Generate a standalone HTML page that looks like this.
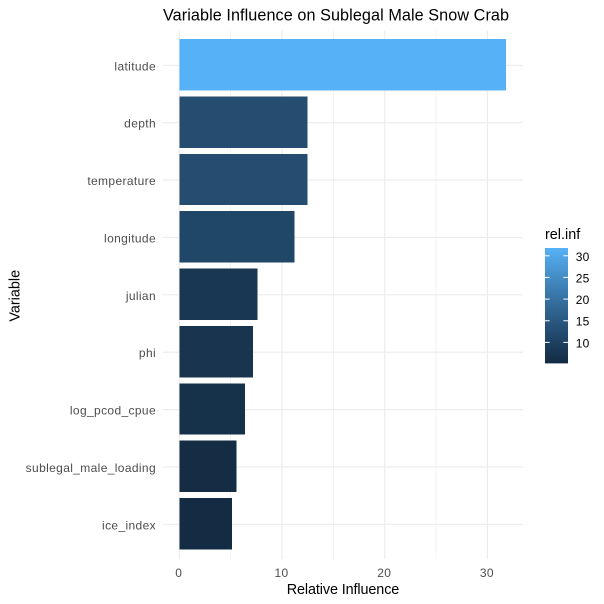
<!DOCTYPE html>
<html>
<head>
<meta charset="utf-8">
<title>Variable Influence on Sublegal Male Snow Crab</title>
<style>
html,body{margin:0;padding:0;background:#fff;}
svg{display:block;font-family:"Liberation Sans",Arial,sans-serif;}
</style>
</head>
<body>
<svg id="chart" xmlns="http://www.w3.org/2000/svg" width="604" height="604" viewBox="0 0 604 604">
  <rect x="0" y="0" width="604" height="604" fill="#ffffff"/>
  <g id="grid"></g>
  <g id="bars"></g>
  <g id="yticks"></g>
  <g id="xticks"></g>
  <text x="163" y="20.5" font-size="16.2" fill="#000" textLength="346" lengthAdjust="spacing">Variable Influence on Sublegal Male Snow Crab</text>
  <text x="286.7" y="594" font-size="14.4" fill="#000" textLength="112.6" lengthAdjust="spacing">Relative Influence</text>
  <text transform="translate(19.3 295.8) rotate(-90)" font-size="14.4" fill="#000" text-anchor="middle">Variable</text>
  <g id="legend">
    <text x="545" y="239" font-size="14.4" fill="#000">rel.inf</text>
    <defs><linearGradient id="cbar" x1="0" y1="1" x2="0" y2="0"></linearGradient></defs>
    <rect x="545" y="248" width="23" height="115.4" fill="url(#cbar)"/>
  </g>
</svg>
<script>
const categories = ["latitude","depth","temperature","longitude","julian","phi","log_pcod_cpue","sublegal_male_loading","ice_index"];
const relInf = [31.8,12.5,12.5,11.2,7.6,7.2,6.4,5.55,5.15];
const xTicks = [0,10,20,30];
const xMinorTicks = [5,15,25];
const legendTicks = [10,15,20,25,30];

const NS = "http://www.w3.org/2000/svg";
const PANEL = {left:163,right:523,top:30.5,bottom:559};
const vMax = Math.max.apply(null, relInf);
const vMin = Math.min.apply(null, relInf);

function xScale(v){ return 179.3 + v * 10.27; }
function yScale(i){ return 65.3 + i * 57.375; }
const BAR_H = 51.3;
function legendY(v){ return 363.4 - (v - vMin) / (vMax - vMin) * 115.4; }

function mk(tag, attrs, parent){
  const e = document.createElementNS(NS, tag);
  for (const k in attrs) e.setAttribute(k, attrs[k]);
  parent.appendChild(e);
  return e;
}

/* ggplot-style colour gradient interpolated in Lab space */
function toLin(c){ c/=255; return c<=0.04045 ? c/12.92 : Math.pow((c+0.055)/1.055,2.4); }
function fromLin(c){ const s = c<=0.0031308 ? 12.92*c : 1.055*Math.pow(c,1/2.4)-0.055; return Math.round(Math.min(1,Math.max(0,s))*255); }
function rgb2lab(r,g,b){
  r=toLin(r);g=toLin(g);b=toLin(b);
  const X=(0.4124*r+0.3576*g+0.1805*b)/0.95047, Y=0.2126*r+0.7152*g+0.0722*b, Z=(0.0193*r+0.1192*g+0.9505*b)/1.08883;
  const f=t=>t>0.008856?Math.cbrt(t):7.787*t+16/116;
  return [116*f(Y)-16,500*(f(X)-f(Y)),200*(f(Y)-f(Z))];
}
function lab2rgb(L,a,b){
  const fy=(L+16)/116, fx=a/500+fy, fz=fy-b/200;
  const g=t=>{const c=t*t*t;return c>0.008856?c:(t-16/116)/7.787;};
  const X=g(fx)*0.95047,Y=g(fy),Z=g(fz)*1.08883;
  return "rgb("+fromLin(3.2406*X-1.5372*Y-0.4986*Z)+","+fromLin(-0.9689*X+1.8758*Y+0.0415*Z)+","+fromLin(0.0557*X-0.204*Y+1.057*Z)+")";
}
const LOW = rgb2lab(0x13,0x2B,0x43), HIGH = rgb2lab(0x56,0xB1,0xF7);
function fillFor(v){
  const t=(v-vMin)/(vMax-vMin);
  return lab2rgb(LOW[0]+(HIGH[0]-LOW[0])*t,LOW[1]+(HIGH[1]-LOW[1])*t,LOW[2]+(HIGH[2]-LOW[2])*t);
}

const grid = document.getElementById("grid");
xMinorTicks.forEach(function(v){
  const l = mk("line",{x1:xScale(v),x2:xScale(v),y1:PANEL.top,y2:PANEL.bottom,stroke:"#ebebeb","stroke-width":0.6},grid);
  
  
});
xTicks.forEach(function(v){
  const l = mk("line",{x1:xScale(v),x2:xScale(v),y1:PANEL.top,y2:PANEL.bottom,stroke:"#ebebeb","stroke-width":1.07},grid);
  
  
});
categories.forEach(function(c,i){
  const l = mk("line",{x1:PANEL.left,x2:PANEL.right,y1:yScale(i),y2:yScale(i),stroke:"#ebebeb","stroke-width":1.07},grid);
  
  
});

const bars = document.getElementById("bars");
relInf.forEach(function(v,i){
  const r = mk("rect",{x:xScale(0),y:yScale(i)-26.2,width:xScale(v)-xScale(0),height:BAR_H,fill:fillFor(v),"shape-rendering":"crispEdges"},bars);
  
  
});

const yticks = document.getElementById("yticks");
categories.forEach(function(c,i){
  const t = mk("text",{x:156,y:yScale(i)+5,"font-size":12,"letter-spacing":0.36,fill:"#4d4d4d","text-anchor":"end"},yticks);
  t.textContent = c;
  
  
});

const xticks = document.getElementById("xticks");
xTicks.forEach(function(v){
  const t = mk("text",{x:xScale(v)-0.5,y:577,"font-size":12,"letter-spacing":0.3,fill:"#4d4d4d","text-anchor":"middle"},xticks);
  t.textContent = String(v);
  
  
});

const grad = document.getElementById("cbar");
for (let i=0;i<=20;i++){
  mk("stop",{offset:(i*5)+"%","stop-color":fillFor(vMin+(vMax-vMin)*i/20)},grad);
}
const legend = document.getElementById("legend");
legendTicks.forEach(function(v){
  const y = legendY(v);
  const a = mk("line",{x1:545,x2:549.6,y1:y,y2:y,stroke:"#fff","stroke-width":1},legend);
  
  
  const b = mk("line",{x1:563.4,x2:568,y1:y,y2:y,stroke:"#fff","stroke-width":1},legend);
  
  
  const t = mk("text",{x:575.7,y:y+5,"font-size":12,"letter-spacing":0.3,fill:"#000"},legend);
  t.textContent = String(v);
  
  
});
</script>
</body>
</html>
